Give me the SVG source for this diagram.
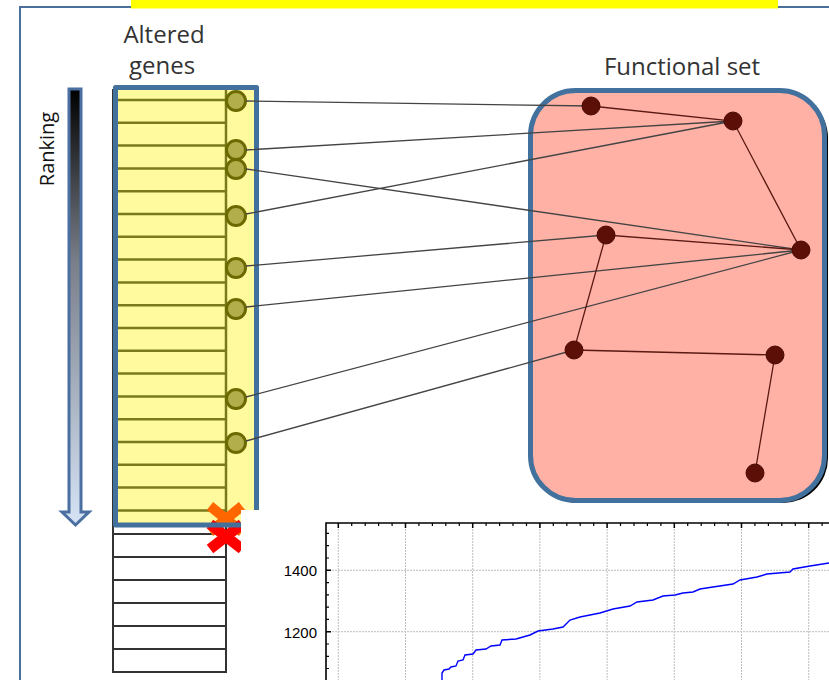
<svg xmlns="http://www.w3.org/2000/svg" width="829" height="680" viewBox="0 0 829 680">
<defs>
<style>
.lbl{font-family:"Open Sans","Liberation Sans",sans-serif;fill:#333333}
.ax{font-family:"Liberation Sans",Arial,sans-serif;font-size:15px;fill:#000}
.row{stroke:#7a7a1c;stroke-width:2.5}
.wrow{stroke:#333;stroke-width:2}
.gene{fill:#b3ae4c;stroke:#6b6a00;stroke-width:3}
.fn{fill:#5c0f06;stroke:#4a0a03;stroke-width:1}
.conn{stroke:#444;stroke-width:1.3;fill:none}
.edge{stroke:#5a1a12;stroke-width:1.3;fill:none}
.grid{stroke:#bdbdbd;stroke-width:1;stroke-dasharray:2 1}
</style>
<linearGradient id="rk" x1="0" y1="0" x2="0" y2="1">
<stop offset="0" stop-color="#000"/>
<stop offset="0.4" stop-color="#7a808a"/>
<stop offset="1" stop-color="#d6e4f6"/>
</linearGradient>
</defs>
<rect width="829" height="680" fill="#fff"/>
<!-- frame -->
<path d="M20,680 V7 H131 M778,7 H829" fill="none" stroke="#4a6f9c" stroke-width="2"/>
<rect x="131" y="0" width="647" height="8.5" fill="#ffff00"/>
<!-- labels -->
<text class="lbl" x="164" y="43" font-size="24" text-anchor="middle">Altered</text>
<text class="lbl" x="162" y="74" font-size="24" text-anchor="middle">genes</text>
<text class="lbl" x="682" y="75" font-size="24" text-anchor="middle">Functional set</text>
<text class="lbl" transform="translate(54,149) rotate(-90)" font-size="20" text-anchor="middle" style="fill:#111">Ranking</text>
<!-- ranking arrow -->
<g id="ranking-arrow">
<path d="M69,89 H81 V512 H89 L75.5,525 L62,512 H69 Z" fill="url(#rk)" stroke="#4a6fa0" stroke-width="3" stroke-linejoin="miter"/>
</g>
<!-- altered genes column -->
<g id="altered-genes">
<rect x="113" y="90" width="113" height="582" fill="#fff" stroke="#333" stroke-width="2"/>
<path class="wrow" d="M113,534H226M113,557H226M113,580H226M113,603H226M113,626H226M113,649H226"/>
<rect x="115.5" y="87.5" width="141" height="437.5" fill="#fffa9e"/>
<path class="row" d="M118,100H226M118,122.8H226M118,145.6H226M118,168.4H226M118,191.2H226M118,214H226M118,236.8H226M118,259.6H226M118,282.4H226M118,305.2H226M118,328H226M118,350.8H226M118,373.6H226M118,396.4H226M118,419.2H226M118,442H226M118,464.8H226M118,487.6H226M118,510.4H226M226,88V524"/>
</g>
<g id="cutoff-marks">
<path d="M210,506 L242,532 M210,532 L242,506" stroke="#ff6600" stroke-width="10"/>
<path d="M210,524 L242,549 M210,549 L242,524" stroke="#ff0000" stroke-width="10.5"/>
</g>
<rect x="115.5" y="87.5" width="141" height="437.5" fill="none" stroke="#41719c" stroke-width="5" stroke-linejoin="round"/>
<g id="gene-markers">
<circle class="gene" cx="236" cy="101" r="9.5"/>
<circle class="gene" cx="236" cy="150" r="9.5"/>
<circle class="gene" cx="236" cy="169" r="9.5"/>
<circle class="gene" cx="236" cy="216" r="9.5"/>
<circle class="gene" cx="236" cy="268" r="9.5"/>
<circle class="gene" cx="236" cy="309" r="9.5"/>
<circle class="gene" cx="236" cy="399" r="9.5"/>
<circle class="gene" cx="236" cy="443" r="9.5"/>
</g>
<!-- functional set -->
<g id="functional-set">
<rect x="533" y="93" width="295" height="410" rx="45" fill="#000"/>
<rect x="530.5" y="90.5" width="294" height="410" rx="45" fill="#ffb1a6" stroke="#41719c" stroke-width="5"/>
</g>
<g id="connectors">
<path class="conn" d="M246,101 L591,106 M246,150 L733,121 M246,169 L801,250 M246,214 L733,121 M246,266 L606,235 M246,307 L801,250 M246,397 L801,250 M246,441 L574,350"/>
<path class="edge" d="M591,106 L733,121 L801,250 L606,235 L574,350 L775,355 L755,473"/>
</g>
<g id="fs-nodes">
<circle class="fn" cx="591" cy="106" r="9"/>
<circle class="fn" cx="733" cy="121" r="9"/>
<circle class="fn" cx="801" cy="250" r="9"/>
<circle class="fn" cx="606" cy="235" r="9"/>
<circle class="fn" cx="574" cy="350" r="9"/>
<circle class="fn" cx="775" cy="355" r="9"/>
<circle class="fn" cx="755" cy="473" r="9"/>
</g>
<!-- chart -->
<g id="chart">
<rect x="241" y="510" width="588" height="170" fill="#fff"/>
<path class="grid" d="M338.3,523V680M405.5,523V680M472.7,523V680M539.9,523V680M607.1,523V680M674.3,523V680M741.5,523V680M808.7,523V680M326,570.3H829M326,631.7H829"/>
<path d="M326,680V523H829" fill="none" stroke="#000" stroke-width="1.6"/>
<path d="M338.3,523v5M405.5,523v5M472.7,523v5M539.9,523v5M607.1,523v5M674.3,523v5M741.5,523v5M808.7,523v5M326,570.3h5M326,631.7h5" stroke="#000" stroke-width="1.5"/>
<path d="M351.7,523v3M365.2,523v3M378.6,523v3M392.1,523v3M418.9,523v3M432.4,523v3M445.8,523v3M459.3,523v3M486.1,523v3M499.6,523v3M513,523v3M526.5,523v3M553.3,523v3M566.8,523v3M580.2,523v3M593.7,523v3M620.5,523v3M634,523v3M647.4,523v3M660.9,523v3M687.7,523v3M701.2,523v3M714.6,523v3M728.1,523v3M754.9,523v3M768.4,523v3M781.8,523v3M795.3,523v3M822.1,523v3M326,533.4h3M326,545.7h3M326,558h3M326,582.6h3M326,594.9h3M326,607.1h3M326,619.4h3M326,644h3M326,656.3h3M326,668.5h3" stroke="#000" stroke-width="1.2"/>
<text class="ax" x="317" y="576" text-anchor="end">1400</text>
<text class="ax" x="317" y="638" text-anchor="end">1200</text>
<polyline fill="none" stroke="#0000ff" stroke-width="1.4" points="442,680 442,673 444,670 449,669 451,667 456,666 458,661 463,660 465,655 473,654 476,650 486,649 491,646 500,645 502,640 516,639 530,635 538,631 553,629 563,627 570,620 580,617 600,613 613,609 630,606 637,602 653,600 663,596 675,595 683,593 693,592 700,589 713,587 733,584 740,580 757,577 767,574 790,572 793,569 810,566 829,563"/>
</g>
</svg>
